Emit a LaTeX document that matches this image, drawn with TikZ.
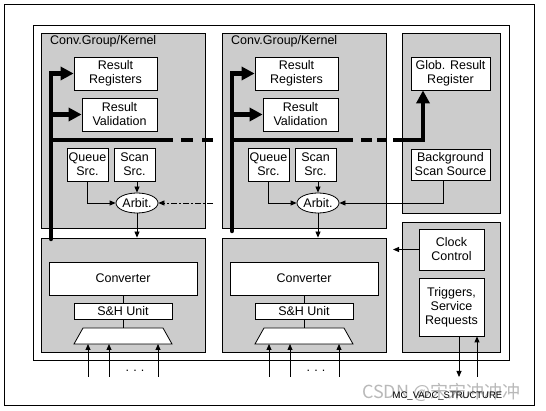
\documentclass[tikz,border=0pt]{standalone}
\usepackage{fontspec}
\setmainfont{Liberation Sans}
\newfontfamily\cjkfont{Noto Sans CJK SC}
\usetikzlibrary{arrows.meta,shapes.geometric}
\definecolor{grp}{RGB}{204,204,204}
\begin{document}
\begin{tikzpicture}[x=1pt,y=-1pt,
  frame/.style={draw=black, line width=0.8pt},
  grpbox/.style={draw=black, fill=grp, line width=0.8pt, inner sep=0pt},
  box/.style={draw=black, fill=white, line width=0.8pt, align=center, inner sep=0pt,
    font=\fontsize{12.5}{14}\selectfont},
  lbl/.style={inner sep=0pt, font=\fontsize{12.5}{14}\selectfont},
  conn/.style={line width=0.8pt, -{Triangle[length=6pt,width=5pt]}},
  bus/.style={line width=4.5pt},
  busarrow/.style={line width=4.5pt, -{Triangle[length=13pt,width=13pt]}},
]
\useasboundingbox (0,0) rectangle (546,411);
\fill[white] (0,0) rectangle (546,411);
% frames
\draw[frame] (4,4) rectangle (534,405);
\draw[frame] (33,25) rectangle (509,360);

\foreach \i/\dx in {1/0,2/181}{
  \begin{scope}[xshift=\dx]
  \node[grpbox, minimum width=164pt, minimum height=195pt] (Gt\i) at (123,130.5) {};
  \node[grpbox, minimum width=164pt, minimum height=114pt] (Gb\i) at (123,295) {};
  \node[lbl, anchor=base west] (K\i) at (50,45) {Conv.Group/Kernel};
  \node[box, minimum width=83pt, minimum height=33pt] (RR\i) at (115.5,73.5) {Result\\Registers};
  \node[box, minimum width=75pt, minimum height=33pt] (RV\i) at (119.5,114.5) {Result\\Validation};
  \node[box, minimum width=41pt, minimum height=33pt] (QS\i) at (87.5,164.5) {Queue\\Src.};
  \node[box, minimum width=41pt, minimum height=33pt] (SS\i) at (134.5,164.5) {Scan\\Src.};
  \node[box, ellipse, minimum width=42pt, minimum height=20pt] (AR\i) at (137,203) {Arbit.};
  \node[box, minimum width=148pt, minimum height=33pt] (CV\i) at (123,278.5) {Converter};
  \node[box, minimum width=98pt, minimum height=16pt] (SH\i) at (123,311) {S\&H Unit};
  \draw[line width=0.8pt, fill=white] (83,328) -- (163,328) -- (172,344) -- (74,344) -- cycle;
  \coordinate (MT\i) at (123,328);
  \coordinate (I\i a) at (88,377);
  \coordinate (I\i b) at (109,377);
  \coordinate (I\i c) at (158,377);
  \node[lbl, anchor=base] (D\i) at (135,372) {.\,\,.\,\,.};
  \end{scope}
  % connectors inside the group
  \draw[conn] (SS\i.south -| AR\i.north) -- (AR\i.north);
  \draw[conn] (QS\i.south) |- (AR\i.west);
  \draw[conn] (AR\i.south) -- (AR\i.south |- Gb\i.north);
  \draw[line width=0.8pt] (CV\i.south) -- (SH\i.north);
  \draw[line width=0.8pt] (SH\i.south) -- (MT\i);
  \draw[conn] (I\i a) -- ++(0,-33);
  \draw[conn] (I\i b) -- ++(0,-33);
  \draw[conn] (I\i c) -- ++(0,-33);
}

% right column
\node[grpbox, minimum width=98pt, minimum height=180pt] (Rt) at (451,123) {};
\node[grpbox, minimum width=98pt, minimum height=130pt] (Rb) at (451,287) {};
\node[box, minimum width=79pt, minimum height=33pt] (GRR) at (450.5,73.5) {Glob. Result\\Register};
\node[box, minimum width=79pt, minimum height=31pt] (BSS) at (450.5,164.5) {Background\\Scan Source};
\node[box, minimum width=65pt, minimum height=41pt] (CC) at (451.5,249.5) {Clock\\Control};
\node[box, minimum width=65pt, minimum height=58pt] (TSR) at (451.5,307) {Triggers,\\Service\\Requests};

% buses group 1
\coordinate (B1) at (51,239);
\draw[busarrow, line cap=round] (B1) |- (RR1.west);
\draw[busarrow] (B1 |- RV1.west) -- (RV1.west);
\draw[bus] (B1 |- 0,140) -- (173,140);
\draw[bus] (181,140) -- (193,140);
\draw[bus] (202,140) -- (213,140);
% buses group 2
\coordinate (B2) at (232,231);
\draw[busarrow, line cap=round] (B2) |- (RR2.west);
\draw[busarrow] (B2 |- RV2.west) -- (RV2.west);
\draw[bus] (B2 |- 0,140) -- (353,140);
\draw[bus] (361,140) -- (372,140);
\draw[bus] (377,140) -- (387,140);
\coordinate (G0) at (393,140);
\draw[busarrow] (G0) -| ([xshift=-27.5pt]GRR.south);

% background scan source to arbiters
\draw[conn] ([xshift=-7.5pt]BSS.south) |- (AR2.east);
\coordinate (DS) at (213,203);
\draw[conn, dash pattern=on 6pt off 2pt on 2pt off 2pt] (DS) -- (AR1.east);

% clock and triggers
\coordinate (CCe) at (393,249.5);
\draw[conn] (CC.west) -- (CCe);
\coordinate (T1) at (459,377);
\coordinate (T2) at (477,377);
\draw[conn] (TSR.south -| T1) -- (T1);
\draw[conn] (T2) -- (TSR.south -| T2);

% caption and watermark
\node[anchor=base west, inner sep=0pt, text=gray!55, font=\cjkfont\fontsize{18}{18}\selectfont] (WM) at (362,398) {CSDN @宋宋冲冲冲};
\node[anchor=base, inner sep=0pt, font=\fontsize{9.5}{10}\selectfont] (CAP) at (447.5,398) {MC\_VADC\_STRUCTURE};
\end{tikzpicture}
\end{document}
